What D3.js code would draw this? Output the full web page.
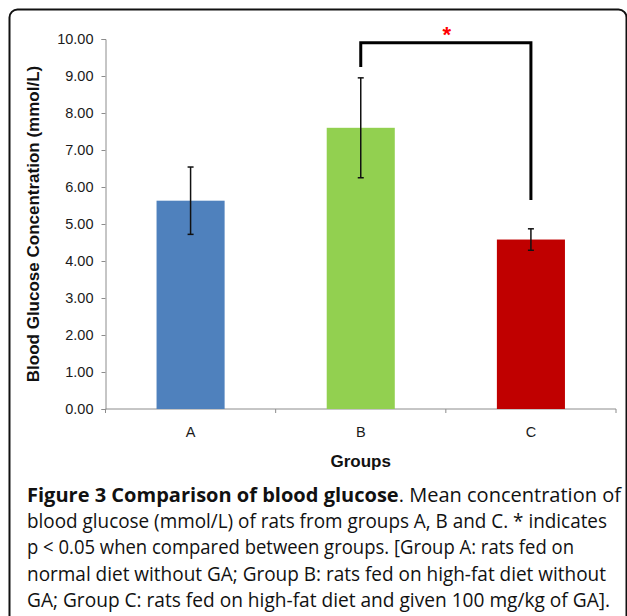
<!DOCTYPE html>
<html>
<head>
<meta charset="utf-8">
<script src="https://cdn.jsdelivr.net/npm/d3@7"></script>
<style>
  html, body { margin: 0; padding: 0; background: #fff; }
  svg { display: block; }
</style>
</head>
<body>
<script>
const groups = ["A", "B", "C"];
const means = [5.63, 7.60, 4.58];
const errs = [0.91, 1.35, 0.29];
const barColors = ["#4f81bd", "#92d050", "#c00000"];
const yTicks = [0, 1, 2, 3, 4, 5, 6, 7, 8, 9, 10];
// significance bracket between B and C: top, left leg end, right leg end
const bracket = { from: "B", to: "C", top: 9.9, leftEnd: 9.24, rightEnd: 5.65 };
const captionLines = [
  ["Figure 3 Comparison of blood glucose", ". Mean concentration of"],
  ["", "blood glucose (mmol/L) of rats from groups A, B and C. * indicates"],
  ["", "p < 0.05 when compared between groups. [Group A: rats fed on"],
  ["", "normal diet without GA; Group B: rats fed on high-fat diet without"],
  ["", "GA; Group C: rats fed on high-fat diet and given 100 mg/kg of GA]."]
];
const captionWidths = [594, 580, 547, 579, 583];

const w = 627, h = 616;
const margin = { left: 105.5, right: 11, top: 39, bottom: 207 };

const svg = d3.select("body").append("svg")
    .attr("width", w)
    .attr("height", h);

// frame
svg.append("rect")
    .attr("x", 9.5).attr("y", 9.5)
    .attr("width", 617).attr("height", 640)
    .attr("rx", 8).attr("ry", 8)
    .attr("fill", "none")
    .attr("stroke", "#111")
    .attr("stroke-width", 2);

const x = d3.scaleBand()
    .domain(groups)
    .range([margin.left, w - margin.right])
    .paddingInner(0.6)
    .paddingOuter(0.3);

const y = d3.scaleLinear()
    .domain([0, 10])
    .range([h - margin.bottom, margin.top]);

const font = "'Liberation Sans', Arial, sans-serif";

// y axis
const yAxis = svg.append("g")
    .attr("transform", "translate(" + margin.left + ",0)")
    .call(d3.axisLeft(y).tickValues(yTicks).tickSize(4).tickPadding(8)
        .tickFormat(d3.format(".2f")));
yAxis.selectAll("path, line").attr("stroke", "#8c8c8c");
yAxis.selectAll("text").attr("font-family", font).attr("font-size", "14.5px").attr("fill", "#1a1a1a");

// x axis with ticks on band edges
const xAxisG = svg.append("g")
    .attr("transform", "translate(0," + y(0) + ")");
xAxisG.append("line")
    .attr("x1", margin.left).attr("x2", w - margin.right)
    .attr("stroke", "#8c8c8c");
const step = x.step();
const edges = [margin.left].concat(groups.map(g => x(g) + x.bandwidth() / 2 + step / 2));
xAxisG.selectAll(".edge")
    .data(edges)
    .enter().append("line")
    .attr("class", "edge")
    .attr("x1", d => d).attr("x2", d => d)
    .attr("y1", 0).attr("y2", 4)
    .attr("stroke", "#8c8c8c");
xAxisG.selectAll(".xlabel")
    .data(groups)
    .enter().append("text")
    .attr("class", "xlabel")
    .attr("x", d => x(d) + x.bandwidth() / 2)
    .attr("y", 28)
    .attr("text-anchor", "middle")
    .attr("font-family", font)
    .attr("font-size", "14.5px")
    .attr("fill", "#1a1a1a")
    .text(d => d);

// bars
svg.selectAll(".bar")
    .data(groups)
    .enter().append("rect")
    .attr("class", "bar")
    .attr("x", d => x(d))
    .attr("y", (d, i) => y(means[i]))
    .attr("width", x.bandwidth())
    .attr("height", (d, i) => y(0) - y(means[i]))
    .attr("fill", (d, i) => barColors[i]);

// error bars
const eb = svg.selectAll(".err")
    .data(groups)
    .enter().append("g")
    .attr("class", "err")
    .attr("stroke", "#111")
    .attr("stroke-width", 1.5);
eb.append("line")
    .attr("x1", d => x(d) + x.bandwidth() / 2)
    .attr("x2", d => x(d) + x.bandwidth() / 2)
    .attr("y1", (d, i) => y(means[i] + errs[i]))
    .attr("y2", (d, i) => y(means[i] - errs[i]));
[1, -1].forEach(s => {
  eb.append("line")
      .attr("x1", d => x(d) + x.bandwidth() / 2 - 3)
      .attr("x2", d => x(d) + x.bandwidth() / 2 + 3)
      .attr("y1", (d, i) => y(means[i] + s * errs[i]))
      .attr("y2", (d, i) => y(means[i] + s * errs[i]));
});

// significance bracket
const bx1 = x(bracket.from) + x.bandwidth() / 2;
const bx2 = x(bracket.to) + x.bandwidth() / 2;
svg.append("path")
    .attr("d", d3.line()([
      [bx1, y(bracket.leftEnd)], [bx1, y(bracket.top)],
      [bx2, y(bracket.top)], [bx2, y(bracket.rightEnd)]
    ]))
    .attr("fill", "none")
    .attr("stroke", "#000")
    .attr("stroke-width", 3);
svg.append("text")
    .attr("x", (bx1 + bx2) / 2 + 1)
    .attr("y", y(bracket.top) - 1)
    .attr("text-anchor", "middle")
    .attr("font-family", font)
    .attr("font-weight", "bold")
    .attr("font-size", "22px")
    .attr("fill", "#ff0000")
    .text("*");

// axis titles
svg.append("text")
    .attr("transform", "translate(39," + (y(5)) + ") rotate(-90)")
    .attr("text-anchor", "middle")
    .attr("font-family", font)
    .attr("font-weight", "bold")
    .attr("font-size", "17px")
    .attr("fill", "#111")
    .text("Blood Glucose Concentration (mmol/L)");
svg.append("text")
    .attr("x", (margin.left + w - margin.right) / 2)
    .attr("y", 467)
    .attr("text-anchor", "middle")
    .attr("font-family", font)
    .attr("font-weight", "bold")
    .attr("font-size", "17px")
    .attr("fill", "#111")
    .text("Groups");

// caption
const cap = svg.selectAll(".cap")
    .data(captionLines)
    .enter().append("text")
    .attr("class", "cap")
    .attr("x", 27)
    .attr("y", (d, i) => 502 + i * 26.2)
    .attr("font-family", "'Open Sans', 'Noto Sans', sans-serif")
    .attr("font-size", "19.5px")
    .attr("fill", "#111")
    .attr("textLength", (d, i) => captionWidths[i])
    .attr("lengthAdjust", "spacingAndGlyphs");
cap.append("tspan")
    .attr("font-weight", "bold")
    .text(d => d[0]);
cap.append("tspan")
    .text(d => d[1]);
</script>
</body>
</html>
